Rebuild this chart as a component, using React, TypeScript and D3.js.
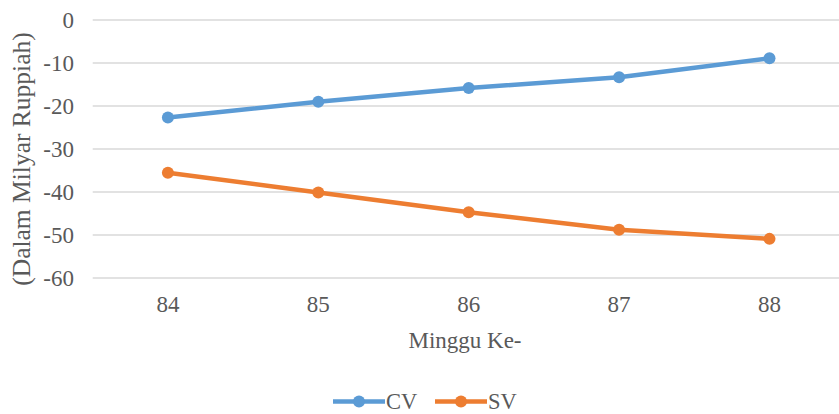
import React from "react";
import * as d3 from "d3";

const categories = ["84", "85", "86", "87", "88"];
const cvValues = [-22.7, -19.0, -15.8, -13.3, -8.9];
const svValues = [-35.5, -40.1, -44.7, -48.8, -50.9];
const yTicks = [0, -10, -20, -30, -40, -50, -60];
const seriesNames = ["CV", "SV"];
const seriesColors = ["#5B9BD5", "#ED7D31"];

const W = 839;
const H = 414;
const TEXT = "#595959";
const ts = { fontFamily: '"Liberation Serif"' };

export default function App() {
  const x = d3.scalePoint<string>().domain(categories).range([92.7, 844.7]).padding(0.5);
  const y = d3.scaleLinear().domain([-60, 0]).range([278, 20]);
  const line = d3
    .line<number>()
    .x((_, i) => x(categories[i]) as number)
    .y((d) => y(d));
  const series = [cvValues, svValues];

  const legendItems = [
    { lx: 333, tx: 386 },
    { lx: 435, tx: 488 },
  ];

  return (
    <svg width={W} height={H} style={{ position: "absolute", left: 0, top: 0, background: "#fff" }}>
      {yTicks.map((t) => (
        <g key={t}>
          <line x1={92.7} x2={W} y1={y(t)} y2={y(t)} stroke="#D9D9D9" strokeWidth={1.5} />
          <text x={74} y={y(t)} dy="0.33em" textAnchor="end" fontSize={23} fill={TEXT} style={ts}>
            {t}
          </text>
        </g>
      ))}
      {categories.map((c) => (
        <text key={c} x={x(c)} y={312} textAnchor="middle" fontSize={23} fill={TEXT} style={ts}>
          {c}
        </text>
      ))}
      <text x={465} y={348} textAnchor="middle" fontSize={23} fill={TEXT} style={ts}>
        Minggu Ke-
      </text>
      <text
        transform={`translate(30,159) rotate(-90)`}
        textAnchor="middle"
        fontSize={25.5}
        fill={TEXT}
        style={ts}
      >
        (Dalam Milyar Ruppiah)
      </text>
      {series.map((vals, si) => (
        <g key={si}>
          <path d={line(vals) || ""} fill="none" stroke={seriesColors[si]} strokeWidth={4.5} strokeLinejoin="round" />
          {vals.map((v, i) => (
            <circle key={i} cx={x(categories[i])} cy={y(v)} r={6} fill={seriesColors[si]} />
          ))}
        </g>
      ))}
      {legendItems.map((it, si) => (
        <g key={si}>
          <line x1={it.lx} x2={it.lx + 52} y1={401.5} y2={401.5} stroke={seriesColors[si]} strokeWidth={4.5} />
          <circle cx={it.lx + 26} cy={401.5} r={6} fill={seriesColors[si]} />
          <text x={it.tx} y={409} fontSize={22.5} fill={TEXT} style={ts}>
            {seriesNames[si]}
          </text>
        </g>
      ))}
    </svg>
  );
}
